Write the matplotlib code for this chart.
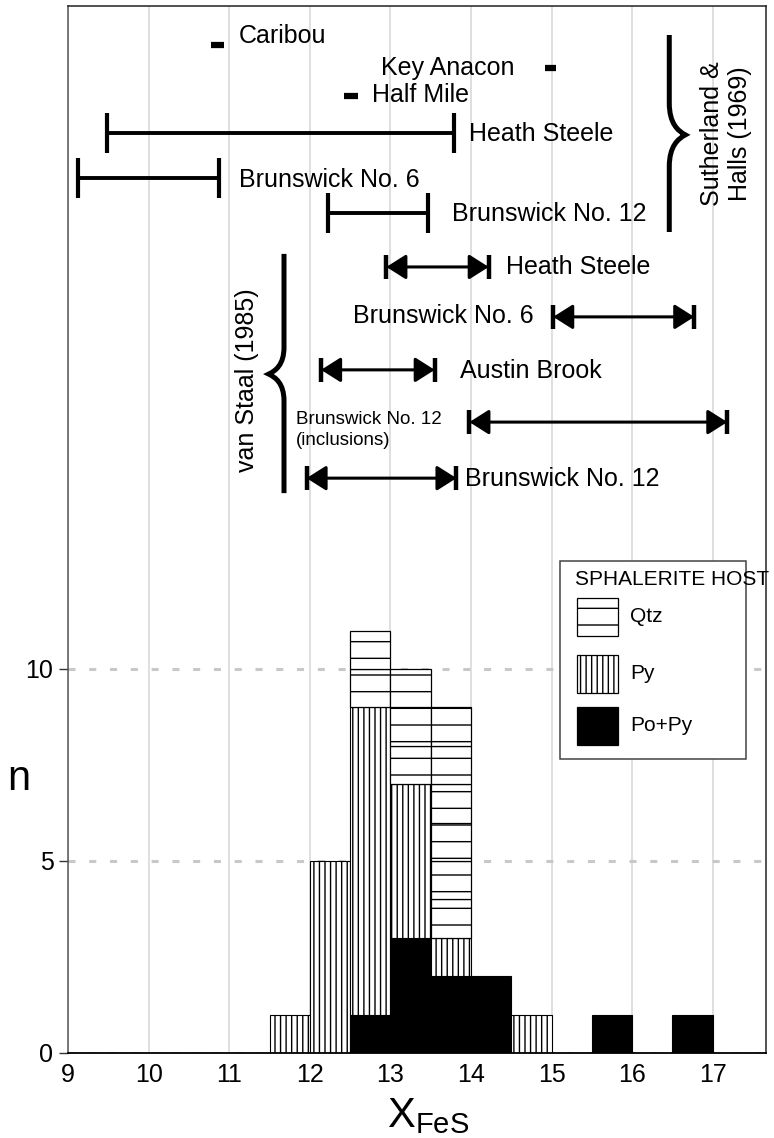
import matplotlib
matplotlib.use('Agg')
import matplotlib.pyplot as plt
from matplotlib.patches import Rectangle, FancyArrowPatch, PathPatch
from matplotlib.path import Path

plt.rcParams['font.family'] = ['Liberation Sans', 'DejaVu Sans']
plt.rcParams['mathtext.fontset'] = 'custom'
plt.rcParams['mathtext.rm'] = 'Liberation Sans'
plt.rcParams['hatch.linewidth'] = 1.0

# histogram of X_FeS (0.5 wide bins), counts by sphalerite host
bin_left = [11.5, 12.0, 12.5, 13.0, 13.5, 14.0, 14.5, 15.0, 15.5, 16.0, 16.5]
n_popy = [0, 0, 1, 3, 2, 2, 0, 0, 1, 0, 1]
n_py = [1, 5, 8, 4, 1, 0, 1, 0, 0, 0, 0]
n_qtz = [0, 0, 2, 3, 6, 0, 0, 0, 0, 0, 0]
bin_w = 0.5

# Sutherland & Halls (1969) ranges
sh_names = ['Caribou', 'Key Anacon', 'Half Mile', 'Heath Steele',
            'Brunswick No. 6', 'Brunswick No. 12']
sh_lo = [10.78, 14.92, 12.43, 9.48, 9.13, 12.23]
sh_hi = [10.93, 15.05, 12.60, 13.79, 10.87, 13.47]

# van Staal (1985) ranges
vs_names = ['Heath Steele', 'Brunswick No. 6', 'Austin Brook',
            'Brunswick No. 12\n(inclusions)', 'Brunswick No. 12']
vs_lo = [12.95, 15.02, 12.14, 13.98, 11.96]
vs_hi = [14.22, 16.77, 13.55, 17.18, 13.82]

# layout of the annotation rows (y in count units, label x / y / alignment)
sh_row = [26.26, 25.64, 24.93, 23.96, 22.79, 21.875]
sh_lab = [(11.12, 26.48, 'left'), (12.88, 25.65, 'left'), (12.77, 24.95, 'left'),
          (13.97, 23.93, 'left'), (11.12, 22.73, 'left'), (13.76, 21.85, 'left')]
vs_row = [20.47, 19.17, 17.79, 16.43, 14.97]
vs_lab = [(14.44, 20.47, 'left'), (14.78, 19.19, 'right'), (13.86, 17.76, 'left'),
          (11.83, 16.22, 'left'), (13.93, 14.95, 'left')]

fig = plt.figure(figsize=(7.74, 11.38), dpi=100)
ax = fig.add_axes([68/774, 85/1138, 698/774, 1047/1138])
ax.set_xlim(9, 9 + 698/80.6)
ax.set_ylim(0, 1047/38.4)
ax.set_axisbelow(True)

# histogram: Po+Py solid, Py vertical hatch, Qtz one block per grain
for i, x in enumerate(bin_left):
    if n_popy[i]:
        ax.bar(x, n_popy[i], width=bin_w, align='edge', color='black',
               edgecolor='black', lw=0.8)
    if n_py[i]:
        ax.bar(x, n_py[i], bottom=n_popy[i], width=bin_w, align='edge',
               facecolor='white', edgecolor='black', hatch='|||', lw=0.8)
    for k in range(n_qtz[i]):
        ax.bar(x, 1, bottom=n_popy[i] + n_py[i] + k, width=bin_w, align='edge',
               facecolor='white', edgecolor='black', hatch='-', lw=0.9)

# Sutherland & Halls ranges
for i, name in enumerate(sh_names):
    y = sh_row[i]
    if sh_hi[i] - sh_lo[i] < 0.3:
        ax.plot([sh_lo[i], sh_hi[i]], [y, y], color='black', lw=4.5,
                solid_capstyle='butt', zorder=3)
    else:
        ax.plot([sh_lo[i], sh_hi[i]], [y, y], color='black', lw=2.8,
                marker='|', ms=29, mew=3.0, zorder=3)
    lx, ly, ha = sh_lab[i]
    ax.text(lx, ly, name, fontsize=18, ha=ha, va='center', zorder=4)

# van Staal ranges
for i, name in enumerate(vs_names):
    y = vs_row[i]
    arr = FancyArrowPatch((vs_lo[i], y), (vs_hi[i], y),
                          arrowstyle='<|-|>,head_length=0.6,head_width=0.38',
                          mutation_scale=20, lw=2.2, color='black',
                          shrinkA=0, shrinkB=0, zorder=3)
    ax.add_patch(arr)
    ax.plot([vs_lo[i], vs_hi[i]], [y, y], ls='none', marker='|', ms=17,
            mew=3.2, color='black', zorder=3)
    lx, ly, ha = vs_lab[i]
    fs = 13.5 if '\n' in name else 18
    ax.text(lx, ly, name, fontsize=fs, ha=ha, va='center', linespacing=1.3,
            zorder=4)


def brace(x0, tip, ytop, ybot, ymid, h):
    w = tip - x0
    verts = [(x0, ytop), (x0, ymid + h),
             (x0, ymid + 0.35*h), (x0 + 0.55*w, ymid + 0.12*h), (tip, ymid),
             (x0 + 0.55*w, ymid - 0.12*h), (x0, ymid - 0.35*h), (x0, ymid - h),
             (x0, ybot)]
    codes = [Path.MOVETO, Path.LINETO] + [Path.CURVE4]*6 + [Path.LINETO]
    ax.add_patch(PathPatch(Path(verts, codes), fill=False, lw=3.6,
                           edgecolor='black', capstyle='butt', zorder=3))


brace(16.46, 16.66, 26.51, 21.38, 23.91, 0.83)
brace(11.68, 11.49, 20.81, 14.58, 17.68, 0.7)
ax.text(17.16, 23.93, 'Sutherland &\nHalls (1969)', rotation=90, fontsize=18,
        ha='center', va='center', multialignment='center', zorder=4)
ax.text(11.22, 17.53, 'van Staal (1985)', rotation=90, fontsize=18,
        ha='center', va='center', zorder=4)

# legend drawn by hand (title runs past the box as in the original)
ax.add_patch(Rectangle((0.705, 0.2808), 0.266, 0.1891, transform=ax.transAxes,
                       facecolor='white', edgecolor='#444444', lw=1.1, zorder=5))
ax.text(0.727, 0.4518, 'SPHALERITE HOST', transform=ax.transAxes, fontsize=15,
        ha='left', va='center', zorder=6, clip_on=False)
sw = [('Qtz', 0.3983, 'white', '-'), ('Py', 0.3438, 'white', '|||'),
      ('Po+Py', 0.2942, 'black', None)]
for lab, y0, fc, hat in sw:
    ax.add_patch(Rectangle((0.729, y0), 0.059, 0.0365, transform=ax.transAxes,
                           facecolor=fc, edgecolor='black', hatch=hat, lw=0.9,
                           zorder=6))
    ax.text(0.805, y0 + 0.0182, lab, transform=ax.transAxes, fontsize=15,
            ha='left', va='center', zorder=6)

# axes styling
ax.set_xticks(range(9, 18))
ax.set_yticks([0, 5, 10])
ax.xaxis.grid(True, color='#d6d6d6', lw=1.1)
ax.yaxis.grid(True, color='#c8c8c8', lw=2.2, ls=(0, (2.3, 4.5)))
ax.tick_params(axis='x', length=0, pad=7.5, labelsize=18)
ax.tick_params(axis='y', length=6.5, width=1.0, color='#333333', pad=4,
               labelsize=18)
for s in ['top', 'right']:
    ax.spines[s].set_color('#222222')
    ax.spines[s].set_linewidth(1.1)
ax.spines['left'].set_color('#555555')
ax.spines['left'].set_linewidth(1.1)
ax.spines['bottom'].set_color('black')
ax.spines['bottom'].set_linewidth(1.3)

ax.set_ylabel('n', rotation=0, fontsize=30, ha='center', va='center')
ax.yaxis.set_label_coords(-0.070, 0.262)
ax.set_xlabel(r'$\mathregular{X_{FeS}}$', fontsize=30, va='top')
ax.xaxis.set_label_coords(0.516, -0.041)

fig.savefig('out.png', dpi=100)
